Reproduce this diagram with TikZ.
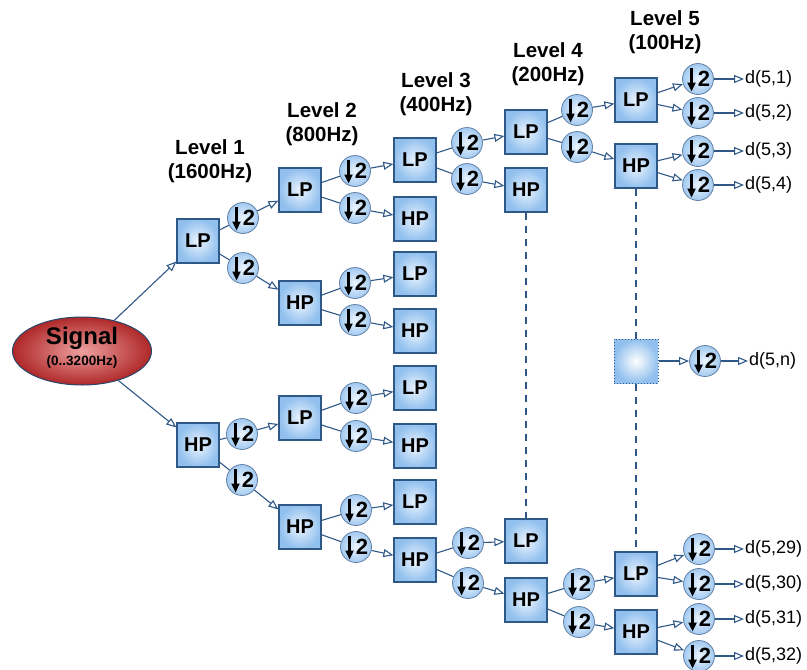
\documentclass[tikz,border=0pt]{standalone}
\usepackage{fontspec}
\setmainfont{Liberation Sans}
\usetikzlibrary{arrows.meta,shapes.geometric}
\definecolor{edge}{RGB}{47,88,135}
\definecolor{boxout}{RGB}{145,192,238}
\definecolor{boxin}{RGB}{236,244,254}
\definecolor{sigout}{RGB}{175,40,40}
\definecolor{sigin}{RGB}{238,160,160}
\begin{document}
\begin{tikzpicture}[x=1pt,y=-1pt,
  box/.style={rectangle, draw=edge, line width=1.3pt, minimum width=42pt, minimum height=44pt, inner sep=0pt,
    inner color=boxin, outer color=boxout, font=\bfseries\fontsize{20}{20}\selectfont},
  ghost/.style={rectangle, draw=edge, dotted, line width=1pt, minimum width=44pt, minimum height=44pt,
    inner color=white, outer color=boxout},
  dn/.style={circle, draw=edge!75, line width=0.8pt, minimum size=31pt, inner sep=0pt,
    inner color=boxin, outer color=boxout!85,
    font=\bfseries\fontsize{22}{22}\selectfont,
    path picture={\draw[black, line width=2.4pt, -{Triangle[length=9pt,width=8pt]}]
      ([shift={(-6.5pt,11.5pt)}]path picture bounding box.center) --
      ([shift={(-6.5pt,-12.5pt)}]path picture bounding box.center);}},
  lvl/.style={align=center, font=\bfseries\fontsize{20.5}{24.5}\selectfont},
  outl/.style={anchor=west, inner sep=1pt, font=\fontsize{18}{18}\selectfont},
  ln/.style={draw=edge, line width=1.1pt},
  arr/.style={ln, -{Triangle[open, length=10pt, width=8pt]}},
  vdash/.style={draw=edge, line width=1.4pt, dash pattern=on 7pt off 6pt}
]
\useasboundingbox (0,0) rectangle (807,670);
\def\two{\hspace*{12pt}2}
% level labels
\node[lvl] (t1) at (210,161) {Level 1\\(1600Hz)};
\node[lvl] (t2) at (322,124) {Level 2\\(800Hz)};
\node[lvl] (t3) at (436,94) {Level 3\\(400Hz)};
\node[lvl] (t4) at (548,64) {Level 4\\(200Hz)};
\node[lvl] (t5) at (665,32) {Level 5\\(100Hz)};
% signal
\node[ellipse, draw=edge!80!black, line width=1pt, minimum width=139pt, minimum height=68pt,
  inner color=sigin, outer color=sigout] (sig) at (82,351) {};
\node[font=\bfseries\fontsize{24}{24}\selectfont] (sigt) at (82,338) {Signal};
\node[font=\bfseries\fontsize{13.5}{14}\selectfont] (sigr) at (82,362) {(0..3200Hz)};
% level 1
\node[box] (l1a) at (198,241) {LP};
\node[box] (l1b) at (198,445) {HP};
\node[dn] (c1a) at (243,218) {\two};
\node[dn] (c1b) at (243,268) {\two};
\node[dn] (c1c) at (242,434) {\two};
\node[dn] (c1d) at (242,480) {\two};
% level 2
\node[box] (l2a) at (300,190) {LP};
\node[box] (l2b) at (300,303) {HP};
\node[box] (l2c) at (300,418) {LP};
\node[box] (l2d) at (300,527) {HP};
\node[dn] (c2a) at (355,171) {\two};
\node[dn] (c2b) at (355,208) {\two};
\node[dn] (c2c) at (355,283) {\two};
\node[dn] (c2d) at (355,320) {\two};
\node[dn] (c2e) at (356,398) {\two};
\node[dn] (c2f) at (356,436) {\two};
\node[dn] (c2g) at (356,510) {\two};
\node[dn] (c2h) at (356,547) {\two};
% level 3
\node[box] (l3a) at (415,160) {LP};
\node[box] (l3b) at (415,219) {HP};
\node[box] (l3c) at (415,274) {LP};
\node[box] (l3d) at (415,331) {HP};
\node[box] (l3e) at (415,388) {LP};
\node[box] (l3f) at (415,446) {HP};
\node[box] (l3g) at (415,502) {LP};
\node[box] (l3h) at (415,560) {HP};
\node[dn] (c3a) at (467,143) {\two};
\node[dn] (c3b) at (467,179) {\two};
\node[dn] (c3c) at (468,543) {\two};
\node[dn] (c3d) at (468,583) {\two};
% level 4
\node[box] (l4a) at (526,132) {LP};
\node[box] (l4b) at (526,190) {HP};
\node[box] (l4c) at (526,541) {LP};
\node[box] (l4d) at (526,600) {HP};
\node[dn] (c4a) at (577,110) {\two};
\node[dn] (c4b) at (577,147) {\two};
\node[dn] (c4c) at (579,584) {\two};
\node[dn] (c4d) at (579,622) {\two};
% level 5
\node[box] (l5a) at (636,100) {LP};
\node[box] (l5b) at (636,166) {HP};
\node[ghost] (l5n) at (636,361) {};
\node[box] (l5c) at (636,574) {LP};
\node[box] (l5d) at (636,632) {HP};
\node[dn] (c5a) at (698,79) {\two};
\node[dn] (c5b) at (698,113) {\two};
\node[dn] (c5c) at (698,151) {\two};
\node[dn] (c5d) at (698,185) {\two};
\node[dn] (c5n) at (705,361) {\two};
\node[dn] (c5e) at (699,549) {\two};
\node[dn] (c5f) at (699,584) {\two};
\node[dn] (c5g) at (699,619) {\two};
\node[dn] (c5h) at (699,656) {\two};
% outputs
\node[outl] (o1) at (744,79) {d(5,1)};
\node[outl] (o2) at (744,113) {d(5,2)};
\node[outl] (o3) at (744,151) {d(5,3)};
\node[outl] (o4) at (744,185) {d(5,4)};
\node[outl] (on) at (748,361) {d(5,n)};
\node[outl] (o29) at (744,549) {d(5,29)};
\node[outl] (o30) at (744,584) {d(5,30)};
\node[outl] (o31) at (744,619) {d(5,31)};
\node[outl] (o32) at (744,656) {d(5,32)};
% connectors
\draw[arr] (sig) -- (l1a);
\draw[arr] (sig) -- (l1b);
\foreach \b/\u/\d/\U/\D in {l1a/c1a/c1b/l2a/l2b, l1b/c1c/c1d/l2c/l2d,
  l2a/c2a/c2b/l3a/l3b, l2b/c2c/c2d/l3c/l3d, l2c/c2e/c2f/l3e/l3f, l2d/c2g/c2h/l3g/l3h,
  l3a/c3a/c3b/l4a/l4b, l3h/c3c/c3d/l4c/l4d,
  l4a/c4a/c4b/l5a/l5b, l4d/c4c/c4d/l5c/l5d}{
  \draw[ln] (\b) -- (\u);
  \draw[ln] (\b) -- (\d);
  \draw[arr] (\u) -- (\U);
  \draw[arr] (\d) -- (\D);
}
\foreach \b/\c/\o in {l5a/c5a/o1, l5a/c5b/o2, l5b/c5c/o3, l5b/c5d/o4, l5n/c5n/on,
  l5c/c5e/o29, l5c/c5f/o30, l5d/c5g/o31, l5d/c5h/o32}{
  \draw[arr] (\b) -- (\c);
  \draw[arr] (\c) -- (\o);
}
\draw[vdash] (l4b) -- (l4c);
\draw[vdash] (l5b) -- (l5n);
\draw[vdash] (l5n) -- (l5c);
\end{tikzpicture}
\end{document}
